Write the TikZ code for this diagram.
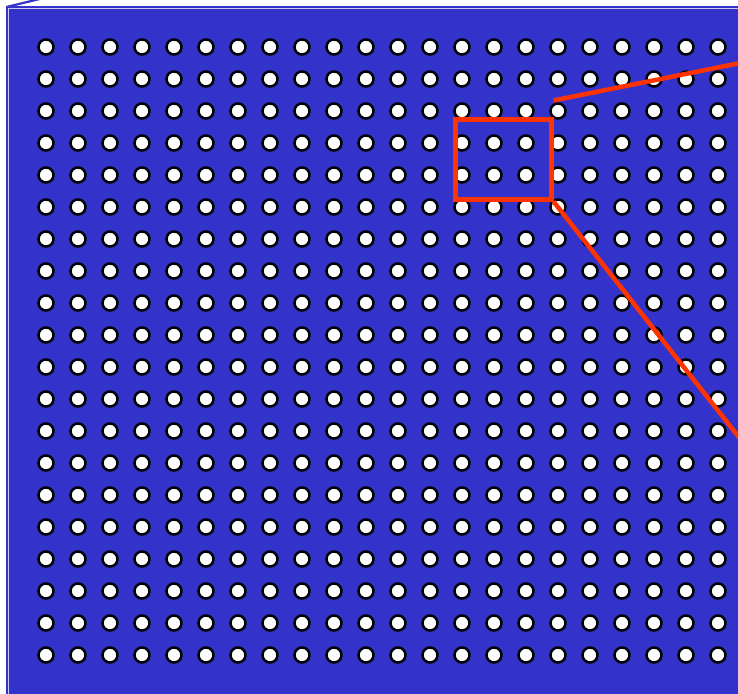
\documentclass[tikz,border=0pt]{standalone}
\usepackage{tikz}
\usetikzlibrary{calc}
\definecolor{plate}{RGB}{51,51,204}
\definecolor{zoomred}{RGB}{255,51,0}

\begin{document}
\begin{tikzpicture}[x=1pt,y=-1pt,
  hole/.style={circle, draw=black, fill=white, line width=2.5pt, minimum size=15pt, inner sep=0pt},
  zoombox/.style={draw=zoomred, line width=5pt, minimum width=96pt, minimum height=80pt, inner sep=0pt}]
\useasboundingbox (0,0) rectangle (738,693);

% the plate
\fill[plate] (5.5,6) rectangle (760,720);
\draw[plate, line width=2.2pt] (6.5,7) -- (52,-4);
\draw[white!75!plate, line width=1pt] (8.5,720) -- (8.5,9) -- (760,9);

% holes
\foreach \i in {0,...,21}
  \foreach \j in {0,...,19}
    \node[name=hole_\i_\j, hole] at (46+32*\i, 47+32*\j) {};

% magnified part
\node[name=zoom, zoombox] at (503,159) {};
\coordinate (zoom_top) at ($(zoom.north east)+(0,-16)$);
\coordinate (far_top) at (760,59);
\coordinate (far_bottom) at (760,464);

\draw[zoomred, line width=4.5pt] (zoom_top) -- (far_top);
\draw[zoomred, line width=4.5pt] (zoom.south east) -- (far_bottom);

\end{tikzpicture}
\end{document}
